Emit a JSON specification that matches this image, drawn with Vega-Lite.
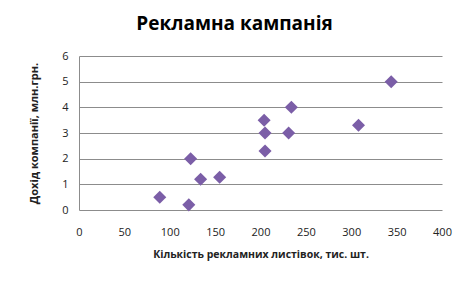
{
  "$schema": "https://vega.github.io/schema/vega-lite/v6.json",
  "width": 363,
  "height": 154,
  "autosize": "none",
  "padding": {"left": 79, "top": 56, "right": 26, "bottom": 71},
  "background": "white",
  "title": {
    "text": "Рекламна кампанія",
    "font": "Open Sans",
    "fontSize": 19,
    "fontWeight": "bold",
    "color": "#000000",
    "anchor": "middle",
    "dx": -26,
    "offset": 16
  },
  "data": {
    "values": [
      {"x": 89, "y": 0.5},
      {"x": 121, "y": 0.2},
      {"x": 123, "y": 2.0},
      {"x": 134, "y": 1.2},
      {"x": 155, "y": 1.28},
      {"x": 204, "y": 3.5},
      {"x": 205, "y": 3.0},
      {"x": 205, "y": 2.3},
      {"x": 231, "y": 3.0},
      {"x": 234, "y": 4.0},
      {"x": 308, "y": 3.3},
      {"x": 344, "y": 5.0}
    ]
  },
  "mark": {"type": "point", "shape": "diamond", "filled": true, "size": 170, "color": "#7b5ea7", "opacity": 1},
  "encoding": {
    "x": {
      "field": "x", "type": "quantitative",
      "scale": {"domain": [0, 400], "nice": false, "zero": true},
      "axis": {
        "values": [0, 50, 100, 150, 200, 250, 300, 350, 400],
        "title": "Кількість  рекламних  листівок,  тис. шт.",
        "grid": false, "domain": false, "ticks": false,
        "labelPadding": 16, "labelFontSize": 11, "labelFont": "Open Sans", "labelColor": "#222222",
        "titleFont": "Open Sans", "titleFontSize": 10.5, "titleFontWeight": "bold", "titleColor": "#222222",
        "titlePadding": 12, "labelFlush": false
      }
    },
    "y": {
      "field": "y", "type": "quantitative",
      "scale": {"domain": [0, 6], "nice": false},
      "axis": {
        "values": [0, 1, 2, 3, 4, 5, 6],
        "title": "Дохід компанії,  млн.грн.",
        "grid": true, "gridColor": "#8c8c8c", "gridWidth": 1,
        "domain": true, "domainColor": "#8c8c8c",
        "ticks": false,
        "labelPadding": 11, "labelFontSize": 11, "labelFont": "Open Sans", "labelColor": "#222222",
        "titleFont": "Open Sans", "titleFontSize": 11, "titleFontWeight": "bold", "titleColor": "#222222",
        "titlePadding": 22, "labelFlush": false
      }
    }
  },
  "config": {"view": {"stroke": null}}
}
